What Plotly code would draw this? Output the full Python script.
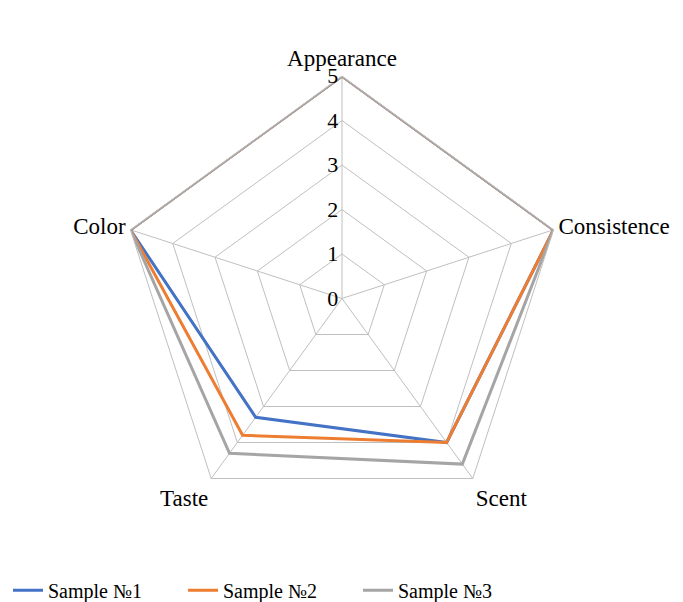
import plotly.graph_objects as go

categories = ["Appearance", "Consistence", "Scent", "Taste", "Color"]
sample1 = [5, 5, 4.0, 3.3, 5]
sample2 = [5, 5, 4.0, 3.8, 5]
sample3 = [5, 5, 4.6, 4.3, 5]
series_names = ["Sample №1", "Sample №2", "Sample №3"]
series_colors = ["#4472C4", "#ED7D31", "#A5A5A5"]
radial_ticks = [0, 1, 2, 3, 4, 5]

fig = go.Figure()
for name, vals, col in zip(series_names, [sample1, sample2, sample3], series_colors):
    fig.add_trace(go.Scatterpolar(
        r=vals + vals[:1],
        theta=categories + categories[:1],
        mode="lines",
        name=name,
        line=dict(color=col, width=3),
        hoverinfo="skip",
    ))

font_family = "Liberation Serif"
fig.update_layout(
    width=683, height=602,
    paper_bgcolor="white", plot_bgcolor="white",
    margin=dict(l=0, r=15, t=68, b=78),
    font=dict(family=font_family, color="black"),
    polar=dict(
        bgcolor="white",
        gridshape="linear",
        angularaxis=dict(
            rotation=90, direction="clockwise",
            categoryorder="array", categoryarray=categories,
            showline=True, linecolor="#BFBFBF", linewidth=1,
            gridcolor="#BFBFBF", gridwidth=1,
            ticks="", tickfont=dict(size=23, family=font_family),
        ),
        radialaxis=dict(
            range=[0, 5], tickvals=radial_ticks,
            angle=90, tickangle=90, side="counterclockwise",
            showline=False, ticks="",
            ticksuffix="\u00a0" * 7,
            gridcolor="#BFBFBF", gridwidth=1,
            tickfont=dict(size=22, family=font_family),
        ),
    ),
    legend=dict(
        orientation="h", x=0.0, xanchor="left", y=-0.112, yanchor="top",
        font=dict(size=20, family=font_family),
        entrywidth=130, entrywidthmode="pixels",
    ),
)

fig.write_html("out.html")
